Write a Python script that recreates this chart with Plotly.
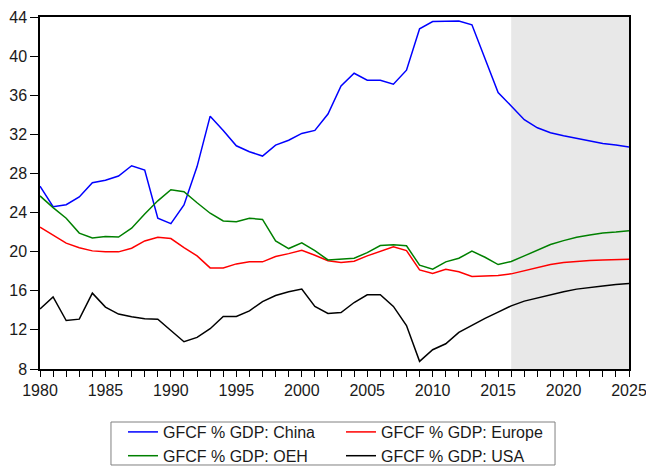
import plotly.graph_objects as go

years = list(range(1980, 2026))

china = [26.7, 24.6, 24.8, 25.6, 27.05, 27.3, 27.74, 28.79, 28.35, 23.42,
         22.87, 24.78, 28.7, 33.86, 32.4, 30.83, 30.22, 29.78, 30.9, 31.4,
         32.09, 32.4, 34.07, 36.96, 38.25, 37.54, 37.54, 37.13, 38.56, 42.8,
         43.53, 43.56, 43.6, 43.2, 39.75, 36.28, 34.9, 33.5, 32.67, 32.16,
         31.85, 31.6, 31.3, 31.07, 30.9, 30.7]

europe = [22.5, 21.7, 20.87, 20.4, 20.08, 20.0, 19.98, 20.35, 21.1, 21.48,
          21.34, 20.42, 19.57, 18.34, 18.34, 18.75, 18.96, 18.96, 19.5, 19.8,
          20.15, 19.64, 19.08, 18.9, 19.03, 19.57, 20.05, 20.5, 20.11, 18.14,
          17.76, 18.2, 17.94, 17.46, 17.5, 17.56, 17.73, 18.04, 18.38, 18.68,
          18.9, 19.03, 19.1, 19.16, 19.2, 19.23]

oeh = [25.7, 24.5, 23.42, 21.9, 21.4, 21.55, 21.5, 22.4, 23.86, 25.2,
       26.34, 26.13, 25.0, 23.93, 23.14, 23.07, 23.42, 23.3, 21.1, 20.32,
       20.9, 20.1, 19.16, 19.26, 19.33, 19.9, 20.62, 20.72, 20.6, 18.62,
       18.2, 18.96, 19.33, 20.05, 19.43, 18.68, 19.0, 19.57, 20.15, 20.73,
       21.13, 21.48, 21.7, 21.9, 22.0, 22.15]

usa = [14.13, 15.38, 12.96, 13.1, 15.76, 14.33, 13.62, 13.34, 13.14, 13.1,
       11.94, 10.79, 11.23, 12.12, 13.37, 13.37, 13.95, 14.9, 15.52, 15.9,
       16.17, 14.4, 13.68, 13.78, 14.8, 15.59, 15.59, 14.4, 12.45, 8.78,
       9.97, 10.58, 11.74, 12.49, 13.17, 13.82, 14.46, 14.94, 15.28, 15.59,
       15.9, 16.17, 16.37, 16.5, 16.64, 16.74]

forecast_start = 2016
forecast_end = 2025

series = [
    ("GFCF % GDP: China", china, "#0000ff"),
    ("GFCF % GDP: Europe", europe, "#ff0000"),
    ("GFCF % GDP: OEH", oeh, "#008000"),
    ("GFCF % GDP: USA", usa, "#000000"),
]

fig = go.Figure()
for name, vals, col in series:
    fig.add_trace(go.Scatter(x=years, y=vals, mode="lines", name=name,
                             line=dict(color=col, width=1.5)))

# forecast shading
fig.add_shape(type="rect", xref="x", yref="paper", x0=forecast_start, x1=forecast_end,
              y0=0, y1=1, fillcolor="#e8e8e8", line=dict(width=0), layer="below")
# legend frame
fig.add_shape(type="rect", xref="paper", yref="paper", x0=0.1205, x1=0.8744,
              y0=-0.1506, y1=-0.2727, line=dict(color="#808080", width=1),
              fillcolor="rgba(0,0,0,0)")

font = dict(family="Arial, Liberation Sans, sans-serif", size=16, color="#1a1a1a")

fig.update_layout(
    width=646, height=467,
    margin=dict(l=40, r=17, t=17, b=98, autoexpand=False),
    plot_bgcolor="white", paper_bgcolor="white",
    font=font,
    showlegend=True,
    legend=dict(orientation="h", x=0.1409, y=-0.1307, xanchor="left", yanchor="top",
                entrywidth=173, entrywidthmode="pixels",
                borderwidth=0, bgcolor="rgba(0,0,0,0)", font=font,
                tracegroupgap=0),
    xaxis=dict(range=[1980, 2025], tickmode="linear", tick0=1980, dtick=5,
               ticks="outside", ticklen=6, tickcolor="black", showgrid=False,
               showline=True, linecolor="black", linewidth=1.5, mirror=True,
               zeroline=False, ticklabeloverflow="allow",
               minor=dict(dtick=1, ticks="outside", ticklen=6, tickcolor="black", showgrid=False)),
    yaxis=dict(range=[8, 44], tickmode="linear", tick0=8, dtick=4,
               ticks="outside", ticklen=8, tickcolor="black", showgrid=False,
               showline=True, linecolor="black", linewidth=1.5, mirror=True,
               zeroline=False),
)

fig.write_html("out.html", config={"displayModeBar": False},
               post_script="document.body.style.margin='0';document.body.style.overflow='hidden';")
